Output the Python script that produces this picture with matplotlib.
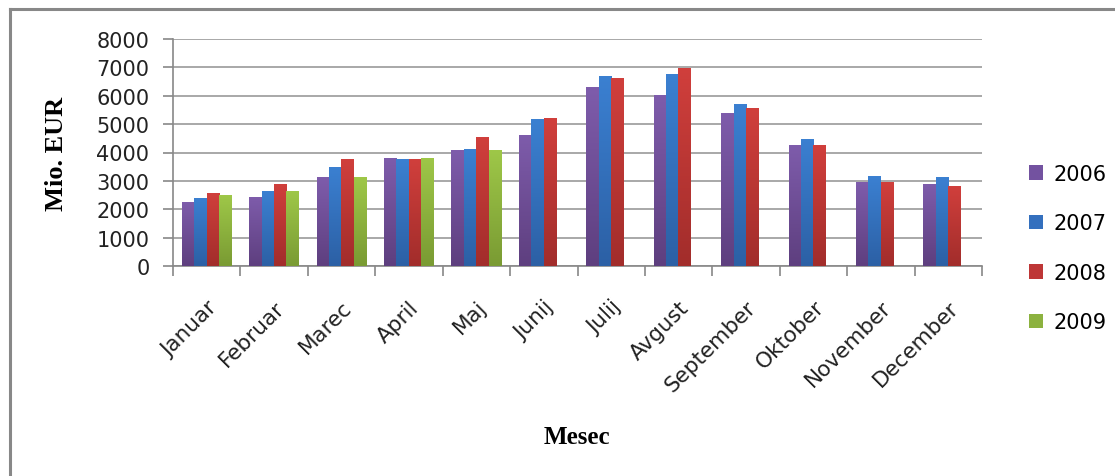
import numpy as np
import matplotlib
matplotlib.use("Agg")
import matplotlib.pyplot as plt
from matplotlib.colors import LinearSegmentedColormap
from matplotlib.patches import Patch
from matplotlib.lines import Line2D

months = ["Januar", "Februar", "Marec", "April", "Maj", "Junij", "Julij",
          "Avgust", "September", "Oktober", "November", "December"]
years = ["2006", "2007", "2008", "2009"]
v2006 = [2270, 2440, 3130, 3810, 4080, 4620, 6300, 6020, 5380, 4250, 2960, 2890]
v2007 = [2400, 2630, 3490, 3760, 4120, 5170, 6700, 6760, 5700, 4490, 3170, 3130]
v2008 = [2580, 2900, 3760, 3760, 4540, 5210, 6620, 6980, 5570, 4250, 2960, 2810]
v2009 = [2490, 2630, 3130, 3810, 4080]
series = [v2006, v2007, v2008, v2009]
yticks = [0, 1000, 2000, 3000, 4000, 5000, 6000, 7000, 8000]

top_cols = ["#7E5CAB", "#3B80D1", "#D03F3C", "#9EC748"]
bot_cols = ["#5E3F7F", "#2C60A5", "#A22D2B", "#7A9B33"]
mid_cols = ["#7352A0", "#3470BE", "#BE3636", "#8CB23F"]

fig = plt.figure(figsize=(11.15, 4.77), dpi=100)
fig.patch.set_facecolor("white")
# outer frame (left and top edges visible)
fig.add_artist(Line2D([9.5/1115, 9.5/1115], [0, 1 - 10/477], color="#888888", lw=2.2,
                      transform=fig.transFigure))
fig.add_artist(Line2D([9.5/1115, 1], [1 - 10/477, 1 - 10/477], color="#888888", lw=2.2,
                      transform=fig.transFigure))

ax = fig.add_axes([173/1115, 1 - 267/477, (982 - 173)/1115, (267 - 40)/477])

n = len(months)
x = np.arange(n)
w = 0.184
start = -0.5 + 0.13
for i, vals in enumerate(series):
    xs = x[:len(vals)] + start + w * i + w / 2
    bars = ax.bar(xs, vals, width=w, color=mid_cols[i], zorder=3, linewidth=0)
    cmap = LinearSegmentedColormap.from_list("g%d" % i, [bot_cols[i], top_cols[i]])
    grad = np.linspace(0, 1, 64).reshape(-1, 1)
    for b in bars:
        x0, y0 = b.get_x(), b.get_y()
        im = ax.imshow(grad, cmap=cmap, origin="lower", aspect="auto",
                       extent=(x0, x0 + b.get_width(), y0, y0 + b.get_height()),
                       zorder=4)
        im.set_clip_path(b)

ax.set_xlim(-0.5, n - 0.5)
ax.set_ylim(0, 8000)
ax.set_yticks(yticks)
ax.set_yticklabels([str(t) for t in yticks], fontsize=15, color="#222222")
ax.yaxis.grid(True, color="#9a9a9a", lw=1.2, zorder=0)
ax.set_axisbelow(True)

ax.set_xticks(x)
ax.set_xticklabels(months, rotation=45, ha="right", va="top",
                   rotation_mode="anchor", fontsize=15.5, color="#222222")
ax.set_xticks(np.arange(-0.5, n, 1.0), minor=True)
ax.tick_params(axis="x", which="major", length=0, pad=22)
ax.tick_params(axis="x", which="minor", length=7, color="#888888", width=1.2)
ax.tick_params(axis="y", length=7, color="#888888", width=1.2, pad=10)

for s in ["top", "right"]:
    ax.spines[s].set_visible(False)
ax.spines["left"].set_color("#888888")
ax.spines["left"].set_linewidth(1.2)
ax.spines["bottom"].set_color("#888888")
ax.spines["bottom"].set_linewidth(1.2)

ax.set_ylabel("Mio. EUR", fontsize=19, fontweight="bold", family="Liberation Serif")
ax.yaxis.set_label_coords((68 - 173) / 809, 0.5)
fig.text(577/1115, 1 - 438/477, "Mesec", fontsize=18, fontweight="bold",
         family="Liberation Serif", ha="center", va="center")

handles = [Patch(facecolor=mid_cols[i], edgecolor="none") for i in range(4)]
fig.legend(handles, years, loc="center left", bbox_to_anchor=(1010/1115, 1 - 249/477),
           frameon=False, fontsize=15, handlelength=0.7, handleheight=0.7,
           handletextpad=0.5, labelspacing=1.42)

fig.savefig("out.png", dpi=100)
